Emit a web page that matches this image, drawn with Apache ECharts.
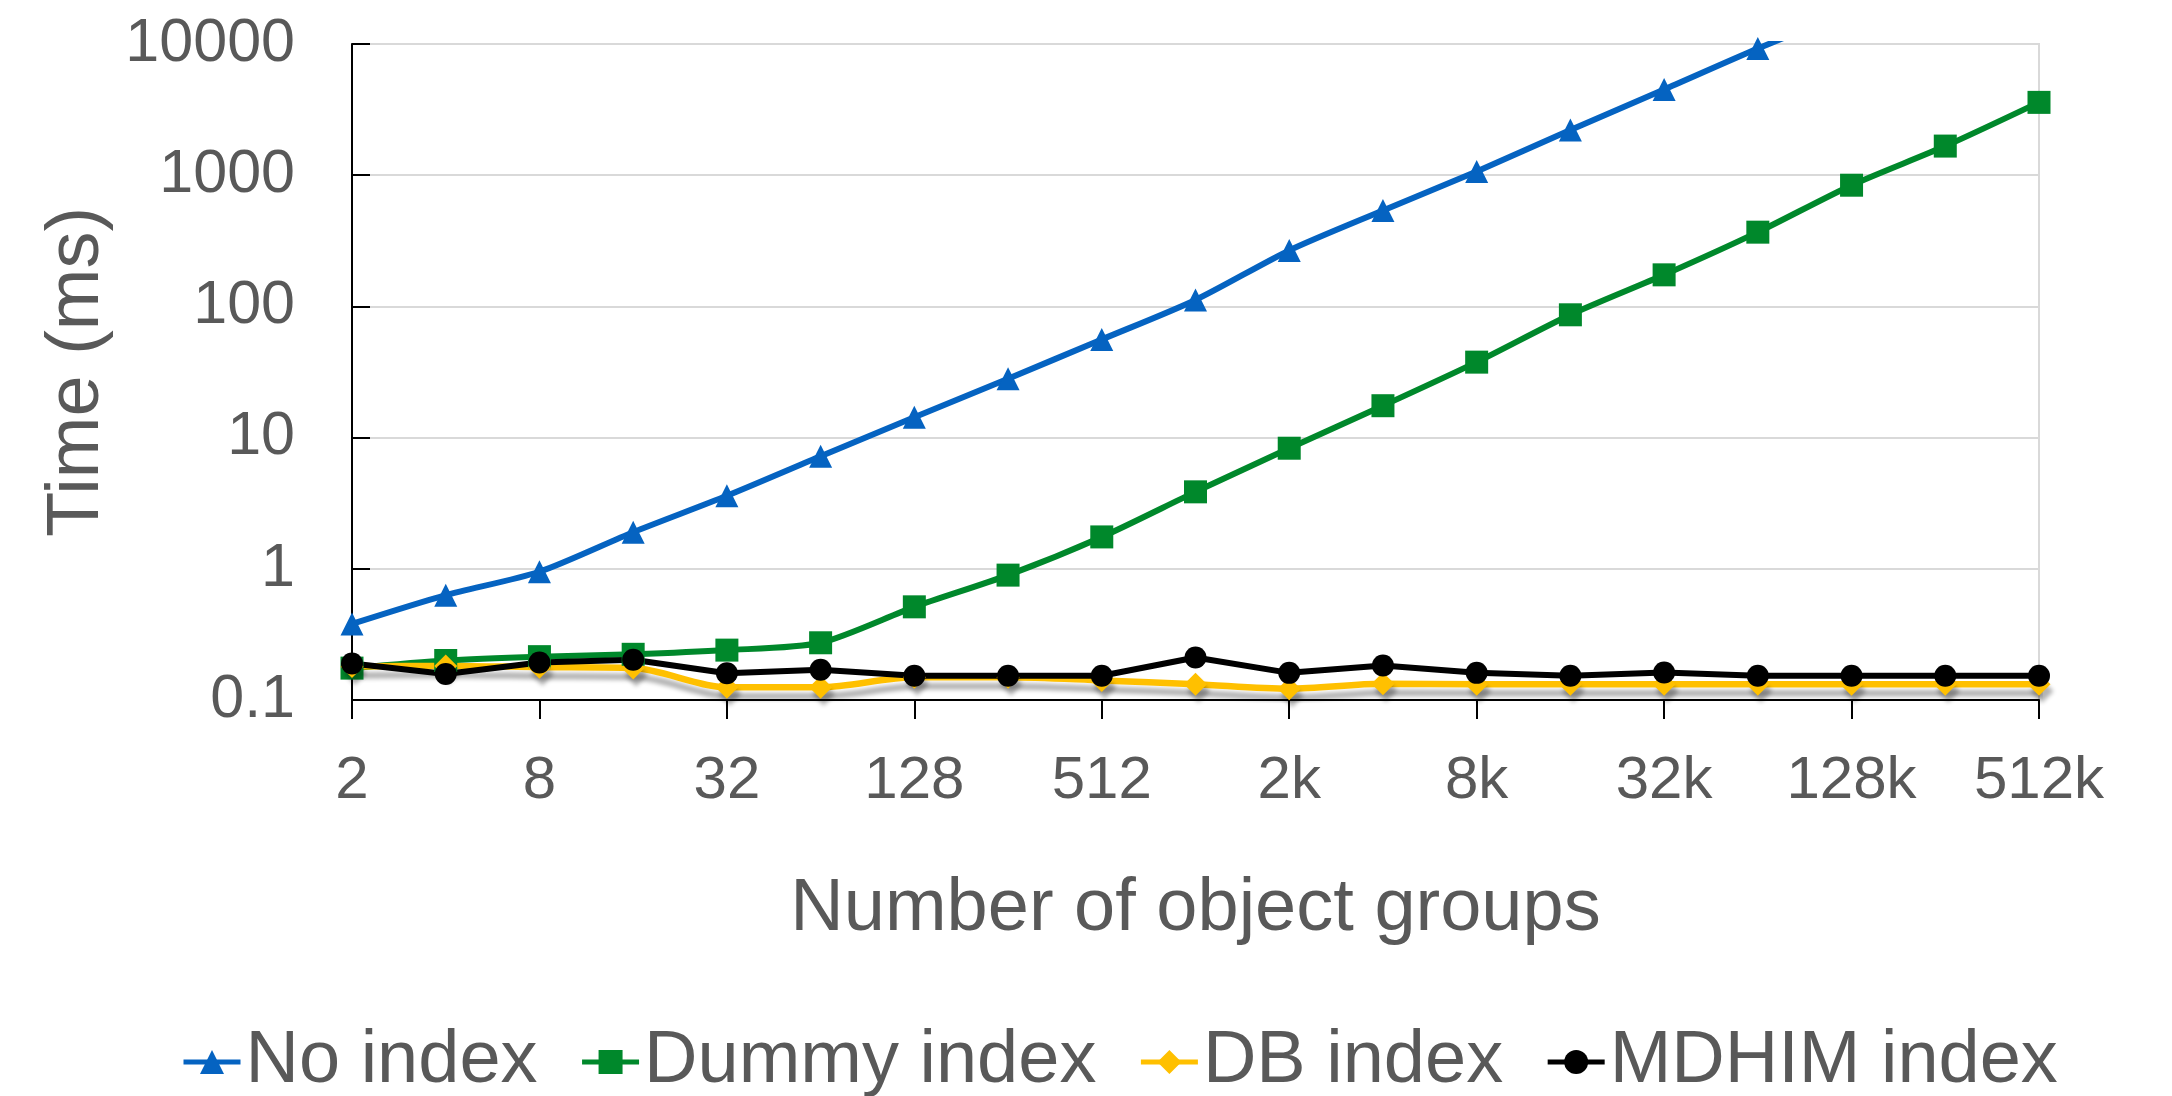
<!DOCTYPE html>
<html>
<head>
<meta charset="utf-8">
<script src="https://cdn.jsdelivr.net/npm/echarts@6/dist/echarts.min.js"></script>
<style>
html,body{margin:0;padding:0;background:#fff;}
#chart{width:2172px;height:1096px;}
</style>
</head>
<body>
<div id="chart"></div>
<script>
const categories = ['2','4','8','16','32','64','128','256','512','1k','2k','4k','8k','16k','32k','64k','128k','256k','512k'];
const noIndex    = [0.38,0.63,0.95,1.9,3.6,7.2,14.3,28.1,56,112,267,538,1069,2208,4500,9230,18000,null,null];
const dummyIndex = [0.175,0.2,0.214,0.223,0.24,0.273,0.513,0.895,1.75,3.86,8.3,17.5,37.6,86.3,174,368,839,1667,3590];
const dbIndex    = [0.18,0.182,0.178,0.175,0.125,0.125,0.149,0.149,0.141,0.132,0.122,0.133,0.132,0.132,0.132,0.132,0.132,0.132,0.132];
const mdhimIndex = [0.19,0.158,0.193,0.203,0.16,0.17,0.153,0.153,0.153,0.211,0.161,0.183,0.161,0.153,0.162,0.153,0.153,0.153,0.153];
const seriesNames = ['No index','Dummy index','DB index','MDHIM index'];
const yTicks = [0.1,1,10,100,1000,10000];

const FONT = '"Liberation Sans", Arial, sans-serif';
const GREY = '#595959';

const chart = echarts.init(document.getElementById('chart'), null, {renderer:'canvas'});

function mkSeries(name, data, color, symbol, size, smooth, extra) {
  return Object.assign({
    name: name,
    type: 'line',
    data: data,
    smooth: smooth,
    symbol: symbol,
    symbolSize: size,
    showSymbol: true,
    showAllSymbol: true,
    clip: true,
    connectNulls: false,
    lineStyle: {color: color, width: 6},
    itemStyle: {color: color, borderWidth: 0}
  }, extra || {});
}

const option = {
  animation: false,
  backgroundColor: '#ffffff',
  grid: {
    left: 352, right: 133, top: 44, bottom: 396,
    show: true, borderColor: '#d9d9d9', borderWidth: 2, backgroundColor: 'transparent'
  },
  legend: {
    data: seriesNames,
    left: 176,
    top: 1020,
    itemWidth: 57,
    itemHeight: 30,
    itemGap: 42,
    lineStyle: {width: 5},
    itemStyle: {shadowBlur: 0, shadowOffsetX: 0, shadowOffsetY: 0, shadowColor: 'transparent'},
    textStyle: {fontFamily: FONT, fontSize: 74, color: GREY}
  },
  xAxis: {
    type: 'category',
    data: categories,
    boundaryGap: false,
    name: 'Number of object groups',
    nameLocation: 'middle',
    nameGap: 173,
    nameTextStyle: {fontFamily: FONT, fontSize: 74, color: GREY},
    axisLine: {show: true, lineStyle: {color: '#000', width: 2}},
    axisTick: {show: true, interval: 1, length: 19, inside: false, lineStyle: {color: '#000', width: 2}},
    axisLabel: {interval: 1, margin: 51, fontFamily: FONT, fontSize: 60, color: GREY},
    splitLine: {show: false}
  },
  yAxis: {
    type: 'log',
    logBase: 10,
    min: yTicks[0],
    max: yTicks[yTicks.length - 1],
    name: 'Time (ms)',
    nameLocation: 'middle',
    nameGap: 235,
    nameTextStyle: {fontFamily: FONT, fontSize: 74, color: GREY},
    axisLine: {show: true, lineStyle: {color: '#000', width: 2}},
    axisTick: {show: true, inside: true, length: 18, lineStyle: {color: '#000', width: 2}},
    axisLabel: {
      margin: 57, fontFamily: FONT, fontSize: 61, color: GREY,
      formatter: function (v) { return String(Number(Number(v).toPrecision(6))); }
    },
    splitLine: {show: true, lineStyle: {color: '#d9d9d9', width: 2}},
    minorTick: {show: false}
  },
  series: [
    mkSeries(seriesNames[0], noIndex, '#0563C1', 'triangle', 23, 0.25),
    mkSeries(seriesNames[1], dummyIndex, '#00882B', 'rect', 23, 0.25),
    mkSeries(seriesNames[2], dbIndex, '#FFC000', 'diamond', 23, 0.3, {
      lineStyle: {color: '#FFC000', width: 6.5, shadowColor: 'rgba(0,0,0,0.3)', shadowBlur: 4, shadowOffsetX: 3, shadowOffsetY: 9},
      itemStyle: {color: '#FFC000', shadowColor: 'rgba(0,0,0,0.3)', shadowBlur: 4, shadowOffsetX: 3, shadowOffsetY: 7}
    }),
    mkSeries(seriesNames[3], mdhimIndex, '#000000', 'circle', 22, false)
  ]
};
chart.setOption(option);
</script>
</body>
</html>
